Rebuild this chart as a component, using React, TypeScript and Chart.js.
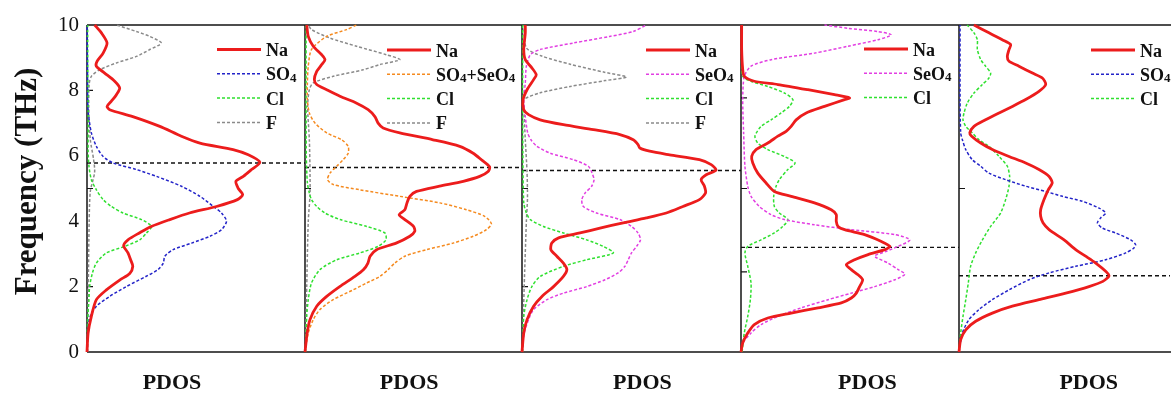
import React, { useEffect, useRef } from 'react';
import { Chart, registerables } from 'chart.js';

Chart.register(...registerables);

const FONT = "'Liberation Serif', 'Times New Roman', serif";

// ---------- axis / labels ----------
const yMin = 0;
const yMax = 10;
const yStep = 2;
const yTitle = 'Frequency (THz)';
const xTitle = 'PDOS';
const panelIds = ['p1', 'p2', 'p3', 'p4', 'p5'];
const panelWeights = [218, 217, 219, 218, 211];
// frequencies of the black dashed marker lines, one per panel
const markerFreq = [5.78, 5.64, 5.55, 3.2, 2.33];
// small inward tick marks on each panel's left border (THz)
const borderTicks = [[2, 5, 8], [5], [2, 5], [2.45, 5, 7.77], [5]];

// ---------- series values: [frequency THz, PDOS (a.u.)] ----------
const na1 = [[0,0],[0.58,0.5],[1.09,2],[1.6,4.3],[1.9,8.9],[2.2,15],[2.4,19.6],[2.62,21],[2.82,20],[3.03,18.8],[3.25,16.8],[3.43,18.8],[3.64,24],[3.84,29.5],[4.05,38],[4.25,47],[4.45,59.4],[4.66,69],[4.81,71.4],[5.0,69.4],[5.22,68.3],[5.37,71.7],[5.58,75.5],[5.8,79.3],[6.03,74],[6.19,67],[6.39,51.8],[6.6,43.3],[6.9,33.4],[7.2,21],[7.41,10.4],[7.51,9.2],[7.67,11.2],[7.87,13.5],[8.07,15],[8.28,12.7],[8.53,8.1],[8.74,4.3],[8.89,4.6],[9.14,7.4],[9.45,9.2],[9.76,6.6],[10,3.5]];
const so4_1 = [[0,0],[0.58,0.3],[1.09,1.5],[1.4,4.3],[1.7,10.4],[2.0,18],[2.31,27],[2.52,32.6],[2.72,35],[2.93,35.7],[3.13,39.5],[3.33,48],[3.54,56.4],[3.74,61.7],[4.0,64],[4.25,61.7],[4.45,58],[4.76,51.8],[5.07,43.3],[5.37,31.9],[5.58,22.7],[5.78,12],[5.98,7.4],[6.29,4.3],[6.7,2],[7.3,0.6],[7.72,0.3],[8.74,0.2],[10,0]];
const cl1 = [[0,0],[1.0,0.3],[1.6,0.9],[2.0,1.2],[2.42,2.5],[2.72,4.3],[3.03,8.9],[3.23,17.3],[3.43,24.2],[3.64,27.3],[3.84,29.6],[4.05,25],[4.25,16.5],[4.45,11.2],[4.66,7.4],[4.96,4.3],[5.27,2],[5.68,0.9],[6.19,0.5],[7.2,0.6],[8.5,0.4],[10,0.3]];
const f1 = [[0,0.3],[2,0.6],[4,1.0],[4.9,1.5],[5.5,3.5],[5.9,3.0],[6.5,1.5],[7.5,0.8],[8.2,1.0],[8.43,2],[8.63,5.8],[8.84,13.5],[9.04,22.7],[9.25,28.8],[9.45,34.1],[9.65,28.8],[9.8,22.7],[10,13.5]];

const na2 = [[0,0],[0.58,1],[0.99,2.3],[1.4,5.4],[1.7,10],[2.0,16],[2.31,23],[2.52,27],[2.72,29],[2.93,30],[3.13,33],[3.33,42],[3.54,48.3],[3.69,50.6],[3.84,50],[4.05,46],[4.2,43.4],[4.35,46],[4.56,47],[4.76,48.3],[4.91,51.4],[5.07,62],[5.22,72.9],[5.37,80.5],[5.52,84.4],[5.66,85.1],[5.88,81.3],[6.08,77.5],[6.29,71.3],[6.49,59],[6.7,43.7],[6.85,36],[7.0,33.7],[7.2,32.2],[7.41,29.1],[7.61,23.8],[7.82,16.1],[8.02,10],[8.18,5.4],[8.33,4.3],[8.58,5.4],[8.79,7.7],[8.94,9.2],[9.09,7.7],[9.35,3.8],[9.65,1.5],[10,0.8]];
const so4se2 = [[0,0],[0.58,1.5],[0.99,3.8],[1.3,6.9],[1.6,13],[1.9,22.2],[2.11,28.4],[2.31,34.5],[2.52,38.3],[2.72,41.4],[2.93,46],[3.13,56],[3.33,68.3],[3.54,77.5],[3.74,83.6],[3.92,85.9],[4.15,82.8],[4.35,74.4],[4.56,62.1],[4.76,43.7],[4.96,25.3],[5.12,13],[5.27,10.4],[5.47,11.5],[5.68,14.6],[5.88,17.6],[6.08,19.9],[6.29,19.9],[6.49,16.9],[6.7,10],[7.0,4.6],[7.31,2],[7.72,1.1],[8.23,1.1],[8.74,1.5],[9.25,3],[9.65,10],[9.86,19.2],[10,23.8]];
const cl2 = [[0,0.2],[1.09,0.8],[1.6,1.5],[2.11,3],[2.52,6.9],[2.82,14.6],[3.03,25.3],[3.23,33.7],[3.43,37.3],[3.64,36.8],[3.84,28.4],[4.05,16.1],[4.25,9.2],[4.45,5.4],[4.66,3],[4.86,2],[5.17,1.1],[6,0.6],[8,0.5],[10,0.5]];
const f2 = [[0,0.2],[2,0.8],[4,1.5],[4.8,2.3],[5.5,2.3],[6.5,2],[7.5,1.2],[8.02,2],[8.23,3.8],[8.43,13],[8.63,26.8],[8.79,34.5],[8.94,43.7],[9.09,37.6],[9.35,23.8],[9.6,11.5],[9.86,3],[10,1.5]];

const na3 = [[0,0],[0.58,0.8],[0.99,2.3],[1.4,5.3],[1.7,9.1],[2.0,14.4],[2.31,18.9],[2.52,20.5],[2.72,18.9],[2.93,15.9],[3.13,13.2],[3.33,13.6],[3.49,16.7],[3.64,26.5],[3.79,35.6],[3.95,46.2],[4.1,56.8],[4.25,65.9],[4.45,73.5],[4.66,81],[4.86,83.8],[5.07,83.3],[5.27,81.8],[5.42,84.1],[5.56,88.6],[5.73,86.4],[5.88,81],[6.03,67.4],[6.14,58.3],[6.24,53.8],[6.34,53],[6.49,50.8],[6.65,44.7],[6.8,32.6],[6.95,18.9],[7.1,8.3],[7.26,3],[7.41,0.8],[7.72,0.5],[8.02,2.3],[8.33,5.3],[8.48,6.5],[8.69,4.5],[8.94,1.5],[9.25,0.8],[9.76,1.5],[10,1.5]];
const se3 = [[0,0],[0.58,1],[0.99,3],[1.3,5.3],[1.6,11.4],[1.8,18.9],[2.0,29.5],[2.21,37.9],[2.42,43.9],[2.62,47],[2.82,48.5],[3.03,50],[3.23,52.3],[3.43,54.1],[3.64,53],[3.84,50],[4.05,44.7],[4.25,34],[4.45,28],[4.66,27.3],[4.86,28.8],[5.07,31.8],[5.27,32.9],[5.47,32],[5.68,30.3],[5.88,23.5],[6.08,12.9],[6.29,6.8],[6.49,4.1],[6.7,2.6],[7.2,1.5],[7.72,0.8],[8.23,1.5],[8.74,2],[9.09,3.8],[9.25,8.3],[9.45,23.5],[9.65,40],[9.8,50.8],[10,56.8]];
const cl3 = [[0,0.2],[1.09,0.8],[1.6,2.3],[2.0,4.5],[2.31,8.3],[2.62,18.9],[2.82,29.5],[3.03,41.7],[3.23,37.1],[3.43,29.5],[3.64,18.9],[3.84,9.8],[4.05,3.8],[4.25,2],[4.56,0.8],[6,0.4],[10,0.3]];
const f3 = [[0,0.2],[2,1.0],[4,2],[4.7,2.5],[5.5,2.3],[6.5,1.5],[7.5,0.8],[7.72,0.8],[7.92,8],[8.12,22],[8.3,38],[8.41,47.7],[8.55,38],[8.8,22],[9.05,9],[9.3,2],[10,0.8]];

const na4 = [[0,0],[0.28,0.8],[0.58,3.1],[0.84,6.1],[1.04,12.3],[1.19,23],[1.35,35.3],[1.5,46],[1.65,50.6],[1.8,52.9],[2.0,54.4],[2.21,55.8],[2.36,53.7],[2.52,50.6],[2.67,48.3],[2.82,52.1],[2.98,58.3],[3.13,66],[3.23,68.3],[3.38,64.4],[3.59,56.7],[3.74,47.5],[3.84,44.5],[4.0,43.7],[4.2,43.7],[4.35,41.4],[4.56,33.7],[4.76,23],[4.91,15.3],[5.17,11.5],[5.47,7.7],[5.78,5.4],[5.98,4.9],[6.19,6.9],[6.39,12.3],[6.6,16.9],[6.75,20.7],[6.9,23],[7.1,25.3],[7.31,29.9],[7.51,38.3],[7.72,47.5],[7.77,49.8],[7.87,42.9],[8.02,30.7],[8.18,16.9],[8.28,6.1],[8.43,1.5],[8.63,0.8],[9.25,0.3],[10,0.3]];
const se4 = [[0,0],[0.28,0.8],[0.58,4.6],[0.84,9.2],[1.09,16.9],[1.35,27.6],[1.6,39.9],[1.8,50.6],[2.0,61.3],[2.21,70.6],[2.38,75.2],[2.52,72.1],[2.72,67.5],[2.93,61.3],[3.08,66.7],[3.23,72.1],[3.43,77.5],[3.59,70.6],[3.74,50.6],[3.89,33.7],[4.05,19.9],[4.2,13.8],[4.45,8.4],[4.76,4.6],[5.07,3.1],[5.68,1.8],[6.7,1.2],[7.72,0.8],[8.43,1.5],[8.74,4.6],[8.94,13.8],[9.14,33.7],[9.35,49],[9.55,62.9],[9.7,69],[9.8,62.9],[9.9,49],[10,38.3]];
const cl4 = [[0,0.5],[0.58,1.5],[1.09,3.1],[1.6,4.3],[2.11,4.6],[2.62,3.1],[3.03,1.8],[3.23,3.1],[3.43,9.2],[3.64,15.3],[3.84,19.2],[4.05,21.5],[4.25,17.6],[4.45,15.3],[4.76,15],[5.07,16.1],[5.27,17.6],[5.58,21.5],[5.78,24.8],[5.98,19.9],[6.19,12.3],[6.39,7.7],[6.6,6.4],[6.9,9.2],[7.1,13.8],[7.31,18.4],[7.51,22.2],[7.72,23.8],[7.92,19.9],[8.12,12.3],[8.28,4.6],[8.43,0.8],[9,0.3],[10,0.3]];

const na5 = [[0,0],[0.38,0.8],[0.68,3.2],[0.94,7.9],[1.19,15.8],[1.4,25.3],[1.6,37.9],[1.8,50.6],[2.0,61.6],[2.16,68.2],[2.33,71.1],[2.47,69.5],[2.72,64.8],[2.93,60],[3.13,55.3],[3.43,49.8],[3.74,42.7],[3.95,39.8],[4.15,38.7],[4.35,38.7],[4.66,40.3],[4.96,42.3],[5.17,44.2],[5.37,42.7],[5.58,37.9],[5.78,31.6],[5.98,23.7],[6.19,15.8],[6.39,10.3],[6.6,6],[6.7,5.1],[6.9,7.1],[7.1,12.6],[7.31,19],[7.51,25.3],[7.72,31.6],[7.97,37.9],[8.18,41.1],[8.38,39.5],[8.53,34.8],[8.74,28.4],[8.89,23.7],[9.04,22.9],[9.25,23.7],[9.4,24.5],[9.55,20.5],[9.76,14.2],[10,7.1]];
const so4_5 = [[0,0],[0.58,1.6],[0.99,4.7],[1.3,9.5],[1.6,15.8],[1.9,23.7],[2.21,33.2],[2.42,42.7],[2.62,55.3],[2.82,69.5],[3.03,79],[3.18,82.9],[3.28,83.7],[3.43,81.4],[3.64,74.2],[3.79,67.9],[3.95,65.6],[4.1,67.1],[4.25,69.5],[4.4,66.4],[4.61,58.5],[4.76,49],[4.91,41.1],[5.07,31.6],[5.27,22.1],[5.47,14.2],[5.68,10.3],[5.88,6.3],[6.19,3.2],[6.49,1.6],[6.7,0.8],[7.72,0.5],[10,0.5]];
const cl5 = [[0,0],[0.58,0.8],[1.09,1.9],[1.6,3.2],[2.11,4.4],[2.62,5.5],[3.03,7.9],[3.43,11.1],[3.84,15],[4.25,19.7],[4.66,22.1],[5.07,23.7],[5.37,24],[5.68,22.9],[5.98,19],[6.29,14.2],[6.49,9.5],[6.7,6.3],[6.9,3.2],[7.1,1.9],[7.31,2.4],[7.61,3.9],[7.92,7.1],[8.18,11.1],[8.38,14.2],[8.53,15],[8.74,12.6],[8.94,10.3],[9.25,8.7],[9.55,8.7],[9.76,7.1],[10,3.9]];

// ---------- styles ----------
const RED = '#ec1c1c';
const BLUE = '#2323c8';
const GREEN = '#2fe02f';
const GRAY = '#8a8a8a';
const ORANGE = '#f58a1f';
const MAGENTA = '#e23ee2';

type Series = { panel: number; label: string; color: string; solid: boolean; values: number[][] };

const series: Series[] = [
  { panel: 0, label: 'Na', color: RED, solid: true, values: na1 },
  { panel: 0, label: 'SO4', color: BLUE, solid: false, values: so4_1 },
  { panel: 0, label: 'Cl', color: GREEN, solid: false, values: cl1 },
  { panel: 0, label: 'F', color: GRAY, solid: false, values: f1 },
  { panel: 1, label: 'Na', color: RED, solid: true, values: na2 },
  { panel: 1, label: 'SO4+SeO4', color: ORANGE, solid: false, values: so4se2 },
  { panel: 1, label: 'Cl', color: GREEN, solid: false, values: cl2 },
  { panel: 1, label: 'F', color: GRAY, solid: false, values: f2 },
  { panel: 2, label: 'Na', color: RED, solid: true, values: na3 },
  { panel: 2, label: 'SeO4', color: MAGENTA, solid: false, values: se3 },
  { panel: 2, label: 'Cl', color: GREEN, solid: false, values: cl3 },
  { panel: 2, label: 'F', color: GRAY, solid: false, values: f3 },
  { panel: 3, label: 'Na', color: RED, solid: true, values: na4 },
  { panel: 3, label: 'SeO4', color: MAGENTA, solid: false, values: se4 },
  { panel: 3, label: 'Cl', color: GREEN, solid: false, values: cl4 },
  { panel: 4, label: 'Na', color: RED, solid: true, values: na5 },
  { panel: 4, label: 'SO4', color: BLUE, solid: false, values: so4_5 },
  { panel: 4, label: 'Cl', color: GREEN, solid: false, values: cl5 },
];

// legend placement per panel: [line start offset from panel left, first row centre y]
const legendAnchor = [[130, 49.5], [82, 50], [124, 50], [123, 49], [132, 50]];
const legendRowStep = 24.3;
const legendLineLen = 44;
// PDOS label centre as a fraction of each panel width
const xTitlePos = [0.39, 0.48, 0.55, 0.58, 0.615];

const DASH = [3, 2];

function drawRich(ctx: CanvasRenderingContext2D, text: string, x: number, y: number, size: number) {
  const parts = text.match(/\d+|\D+/g) || [];
  let cx = x;
  for (const p of parts) {
    const sub = /^\d+$/.test(p);
    const s = sub ? Math.round(size * 0.7) : size;
    ctx.font = `bold ${s}px ${FONT}`;
    ctx.fillText(p, cx, sub ? y + 1.5 : y);
    cx += ctx.measureText(p).width;
  }
}

const decorPlugin = {
  id: 'decor',
  beforeDatasetsDraw(chart: any) {
    const { ctx, chartArea } = chart;
    const { top, bottom, left } = chartArea;
    ctx.save();
    ctx.strokeStyle = '#151515';
    ctx.lineWidth = 1.5;
    ctx.beginPath();
    ctx.moveTo(left, top);
    ctx.lineTo(chart.width, top);
    ctx.moveTo(left, bottom);
    ctx.lineTo(chart.width, bottom);
    panelIds.forEach((id) => {
      const s = chart.scales[id];
      ctx.moveTo(s.left, top);
      ctx.lineTo(s.left, bottom);
    });
    ctx.stroke();
    const y = chart.scales.y;
    ctx.lineWidth = 1.2;
    ctx.beginPath();
    panelIds.forEach((id, i) => {
      const s = chart.scales[id];
      borderTicks[i].forEach((f) => {
        const py = y.getPixelForValue(f);
        ctx.moveTo(s.left, py);
        ctx.lineTo(s.left + 6, py);
      });
    });
    ctx.stroke();
    ctx.restore();
  },
  afterDatasetsDraw(chart: any) {
    const { ctx, chartArea } = chart;
    ctx.save();
    ctx.fillStyle = '#111';
    ctx.textBaseline = 'alphabetic';
    ctx.textAlign = 'left';
    // legends
    panelIds.forEach((id, i) => {
      const s = chart.scales[id];
      const [ox, oy] = legendAnchor[i];
      const items = series.filter((d) => d.panel === i);
      items.forEach((d, r) => {
        const ly = oy + r * legendRowStep;
        const lx = s.left + ox;
        ctx.save();
        ctx.strokeStyle = d.color;
        ctx.lineWidth = d.solid ? 2.8 : 1.5;
        ctx.setLineDash(d.solid ? [] : DASH);
        ctx.beginPath();
        ctx.moveTo(lx, ly);
        ctx.lineTo(lx + legendLineLen, ly);
        ctx.stroke();
        ctx.restore();
        ctx.fillStyle = '#111';
        drawRich(ctx, d.label, lx + legendLineLen + 5, ly + 6.5, 18);
      });
      // PDOS title
      ctx.font = `bold 22px ${FONT}`;
      ctx.textAlign = 'center';
      ctx.fillText(xTitle, s.left + (s.right - s.left) * xTitlePos[i], 389);
      ctx.textAlign = 'left';
    });
    // y title
    ctx.translate(36, (chartArea.top + chartArea.bottom) / 2 - 7);
    ctx.rotate(-Math.PI / 2);
    ctx.textAlign = 'center';
    ctx.font = `bold 31px ${FONT}`;
    ctx.fillText(yTitle, 0, 0);
    ctx.restore();
  },
};

export default function App() {
  const ref = useRef<HTMLCanvasElement | null>(null);
  useEffect(() => {
    if (!ref.current) return;
    const datasets: any[] = series.map((d) => ({
      label: d.label,
      xAxisID: panelIds[d.panel],
      yAxisID: 'y',
      data: d.values.map(([f, v]) => ({ x: v, y: f })),
      showLine: true,
      borderColor: d.color,
      backgroundColor: d.color,
      borderWidth: d.solid ? 2.8 : 1.5,
      borderDash: d.solid ? [] : DASH,
      pointRadius: 0,
      tension: 0.25,
      fill: false,
      clip: 3,
    }));
    markerFreq.forEach((m, i) => {
      datasets.push({
        label: 'marker',
        xAxisID: panelIds[i],
        yAxisID: 'y',
        data: [{ x: 0, y: m }, { x: 100, y: m }],
        showLine: true,
        borderColor: '#111',
        borderWidth: 1.4,
        borderDash: [4, 3],
        pointRadius: 0,
        tension: 0,
        clip: 3,
      });
    });
    const scales: any = {
      y: {
        type: 'linear',
        position: 'left',
        min: yMin,
        max: yMax,
        ticks: { stepSize: yStep, font: { family: FONT, size: 21 }, color: '#111', padding: 8 },
        grid: { display: false, drawTicks: false },
        border: { display: false },
        afterFit: (s: any) => { s.width = 87; },
      },
    };
    panelIds.forEach((id, i) => {
      scales[id] = {
        type: 'linear',
        position: 'bottom',
        stack: 'panels',
        stackWeight: panelWeights[i],
        min: 0,
        max: 100,
        ticks: { display: false },
        grid: { display: false, drawTicks: false },
        border: { display: false },
        afterFit: (s: any) => { s.height = 42; },
      };
    });
    const chart = new Chart(ref.current, {
      type: 'scatter',
      data: { datasets },
      options: {
        responsive: false,
        animation: false,
        devicePixelRatio: 1,
        layout: { padding: { top: 25, right: 1, bottom: 0, left: 0 } },
        plugins: { legend: { display: false }, tooltip: { enabled: false } },
        scales,
      },
      plugins: [decorPlugin],
    } as any);
    return () => chart.destroy();
  }, []);
  return (
    <div style={{ position: 'fixed', left: 0, top: 0, width: 1171, height: 394, background: '#ffffff' }}>
      <canvas ref={ref} width={1171} height={394} style={{ display: 'block' }} />
    </div>
  );
}
